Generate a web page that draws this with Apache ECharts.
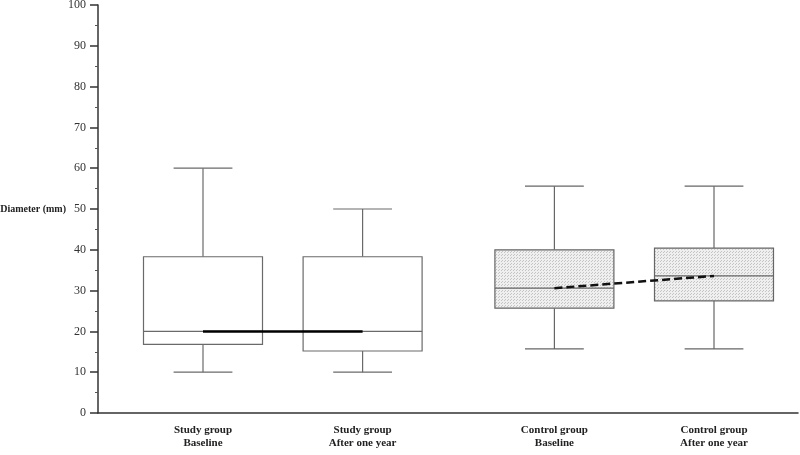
<!DOCTYPE html>
<html>
<head>
<meta charset="utf-8">
<script src="https://cdn.jsdelivr.net/npm/echarts@6/dist/echarts.min.js"></script>
<style>
  html, body { margin: 0; padding: 0; background: #fff; }
  #chart { width: 800px; height: 455px; }
</style>
</head>
<body>
<div id="chart"></div>
<script>
// group labels and where each group sits on the (hidden) x scale
const groupNames = ['Study group\nBaseline', 'Study group\nAfter one year', 'Control group\nBaseline', 'Control group\nAfter one year'];
const groupX = [15, 37.8, 65.2, 88];

// [min, q1, median, q3, max]
const studyBaseline = [10, 16.8, 20, 38.3, 60];
const studyOneYear = [10, 15.2, 20, 38.3, 50];
const controlBaseline = [15.7, 25.7, 30.6, 40, 55.6];
const controlOneYear = [15.7, 27.5, 33.6, 40.4, 55.6];

const yTicks = [0, 10, 20, 30, 40, 50, 60, 70, 80, 90, 100];

const chart = echarts.init(document.getElementById('chart'));

// dotted texture for the control boxes
const dots = document.createElement('canvas');
dots.width = 3; dots.height = 3;
const dctx = dots.getContext('2d');
dctx.fillStyle = '#efefef';
dctx.fillRect(0, 0, 3, 3);
dctx.fillStyle = '#c4c4c4';
dctx.fillRect(0, 0, 1, 1);
dctx.fillRect(1, 2, 1, 1);

function boxRender(fill, stroke) {
  return function (params, api) {
    const x = api.value(0);
    const half = api.size([17, 0])[0] / 2;
    const capHalf = api.size([8.4, 0])[0] / 2;
    const pMin = api.coord([x, api.value(1)]);
    const pQ1 = api.coord([x, api.value(2)]);
    const pMed = api.coord([x, api.value(3)]);
    const pQ3 = api.coord([x, api.value(4)]);
    const pMax = api.coord([x, api.value(5)]);
    const cx = pMin[0];
    const lineStyle = { stroke: stroke, lineWidth: 1.2 };
    return {
      type: 'group',
      children: [
        { type: 'line', shape: { x1: cx, y1: pMax[1], x2: cx, y2: pQ3[1] }, style: lineStyle },
        { type: 'line', shape: { x1: cx, y1: pQ1[1], x2: cx, y2: pMin[1] }, style: lineStyle },
        { type: 'line', shape: { x1: cx - capHalf, y1: pMax[1], x2: cx + capHalf, y2: pMax[1] }, style: lineStyle },
        { type: 'line', shape: { x1: cx - capHalf, y1: pMin[1], x2: cx + capHalf, y2: pMin[1] }, style: lineStyle },
        { type: 'rect', shape: { x: cx - half, y: pQ3[1], width: half * 2, height: pQ1[1] - pQ3[1] },
          style: { fill: fill, stroke: stroke, lineWidth: 1.2 } },
        { type: 'line', shape: { x1: cx - half, y1: pMed[1], x2: cx + half, y2: pMed[1] }, style: lineStyle }
      ]
    };
  };
}

const option = {
  animation: false,
  backgroundColor: '#fff',
  grid: { left: 98, right: 2, top: 5, bottom: 42, outerBoundsMode: 'none', containLabel: false },
  xAxis: {
    type: 'value',
    min: 0,
    max: 100,
    axisLine: { lineStyle: { color: '#333', width: 1.5 } },
    axisTick: { show: false },
    splitLine: { show: false },
    axisLabel: {
      customValues: groupX,
      formatter: function (v) { return groupNames[groupX.indexOf(v)] || ''; },
      fontFamily: 'Liberation Serif',
      fontWeight: 'bold',
      fontSize: 11,
      lineHeight: 13,
      color: '#222',
      margin: 11
    }
  },
  yAxis: {
    type: 'value',
    min: 0,
    max: 100,
    interval: 10,
    name: 'Diameter (mm)',
    nameLocation: 'middle',
    nameRotate: 0,
    nameGap: 32,
    nameMoveOverlap: false,
    nameTextStyle: { fontFamily: 'Liberation Serif', fontWeight: 'bold', fontSize: 10, color: '#222', align: 'right' },
    axisLine: { show: true, lineStyle: { color: '#333', width: 1.5 } },
    axisTick: { show: true, length: 8, lineStyle: { color: '#333', width: 1.5 } },
    minorTick: { show: true, splitNumber: 2, length: 3, lineStyle: { color: '#555' } },
    splitLine: { show: false },
    axisLabel: {
      fontFamily: 'Liberation Serif',
      fontSize: 12,
      color: '#333',
      margin: 12,
      formatter: function (v) { return yTicks.indexOf(v) >= 0 ? String(v) : ''; }
    }
  },
  series: [
    {
      name: 'Study group',
      type: 'custom',
      renderItem: boxRender('#fff', '#6a6a6a'),
      data: [
        [groupX[0]].concat(studyBaseline),
        [groupX[1]].concat(studyOneYear)
      ],
      z: 2
    },
    {
      name: 'Control group',
      type: 'custom',
      renderItem: boxRender({ image: dots, repeat: 'repeat' }, '#666'),
      data: [
        [groupX[2]].concat(controlBaseline),
        [groupX[3]].concat(controlOneYear)
      ],
      z: 2
    },
    {
      name: 'Study median',
      type: 'line',
      symbol: 'none',
      data: [[groupX[0], studyBaseline[2]], [groupX[1], studyOneYear[2]]],
      lineStyle: { color: '#000', width: 2.5 },
      z: 5
    },
    {
      name: 'Control median',
      type: 'line',
      symbol: 'none',
      data: [[groupX[2], controlBaseline[2]], [groupX[3], controlOneYear[2]]],
      lineStyle: { color: '#111', width: 2.5, type: [8, 4] },
      z: 5
    }
  ]
};

chart.setOption(option);
</script>
</body>
</html>
